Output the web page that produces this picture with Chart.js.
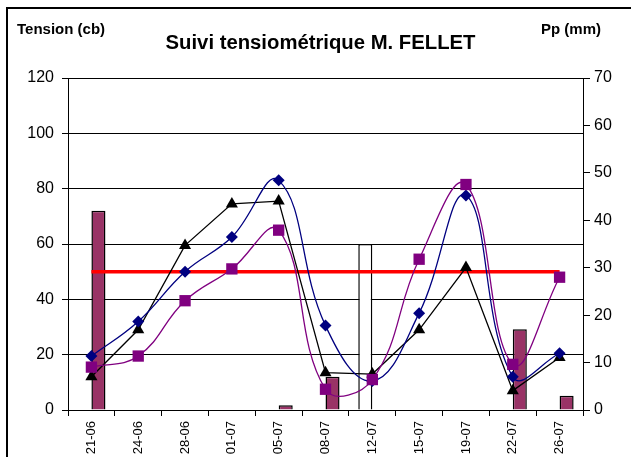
<!DOCTYPE html>
<html>
<head>
<meta charset="utf-8">
<script src="https://cdn.jsdelivr.net/npm/chart.js@4.4.1/dist/chart.umd.min.js"></script>
<style>
  html, body { margin: 0; padding: 0; background: #fff; }
  #wrap { position: relative; width: 631px; height: 457px; }
</style>
</head>
<body>
<div id="wrap"><canvas id="c" width="631" height="457"></canvas></div>
<script>
const categories = ['21-06','24-06','28-06','01-07','05-07','08-07','12-07','15-07','19-07','22-07','26-07'];
const tensionBlue   = [19.5, 32, 50, 62.5, 83, 30.5, 10.5, 35, 77.5, 12, 20.5];
const tensionPurple = [15.5, 19.5, 39.5, 51, 65, 7.5, 11, 54.5, 81.5, 16.5, 48];
const tensionBlack  = [12, 29, 59.5, 74.5, 75.5, 13.5, 13, 29, 51.5, 7, 19];
const threshold     = [50, 50, 50, 50, 50, 50, 50, 50, 50, 50, 50];
const rainMaroon    = [42, 0, 0, 0, 1, 7, 0, 0, 0, 17, 3];
const irrigWhite    = [0, 0, 0, 0, 0, 0, 35, 0, 0, 0, 0];
const leftTicks  = [0, 20, 40, 60, 80, 100, 120];
const rightTicks = [0, 10, 20, 30, 40, 50, 60, 70];

const FONT = "'Liberation Sans', Arial, sans-serif";

const decor = {
  id: 'decor',
  beforeDraw(chart) {
    const ctx = chart.ctx;
    ctx.save();
    ctx.fillStyle = '#fff';
    ctx.fillRect(0, 0, chart.width, chart.height);
    ctx.fillStyle = '#000';
    ctx.fillRect(6, 7, 2, chart.height - 7);
    ctx.fillRect(6, 7, chart.width - 6, 2);
    ctx.restore();
  },
  afterDraw(chart) {
    const ctx = chart.ctx;
    ctx.save();
    ctx.fillStyle = '#000';
    ctx.textBaseline = 'middle';
    ctx.font = 'bold 15px ' + FONT;
    ctx.textAlign = 'left';
    ctx.fillText('Tension (cb)', 17, 30);
    ctx.fillText('Pp (mm)', 541, 30);
    ctx.font = 'bold 20.3px ' + FONT;
    ctx.textAlign = 'center';
    ctx.fillText('Suivi tensiométrique M. FELLET', 320.5, 43);
    ctx.restore();
  }
};

new Chart(document.getElementById('c'), {
  data: {
    labels: categories,
    datasets: [
      { type: 'line', data: tensionPurple, yAxisID: 'y', order: 1,
        borderColor: '#800080', backgroundColor: '#800080', borderWidth: 1.3,
        pointStyle: 'rect', pointRadius: 8, pointBorderWidth: 0, tension: 0.42, fill: false },
      { type: 'line', data: tensionBlue, yAxisID: 'y', order: 2,
        borderColor: '#000080', backgroundColor: '#000080', borderWidth: 1.3,
        pointStyle: 'rectRot', pointRadius: 6, pointBorderWidth: 0, tension: 0.42, fill: false },
      { type: 'line', data: tensionBlack, yAxisID: 'y', order: 3,
        borderColor: '#000000', backgroundColor: '#000000', borderWidth: 1.3,
        pointStyle: 'triangle', pointRadius: 7, pointBorderWidth: 0, tension: 0, fill: false },
      { type: 'line', data: threshold, yAxisID: 'y', order: 4,
        borderColor: '#ff0000', borderWidth: 3.5, pointRadius: 0, tension: 0, fill: false },
      { type: 'bar', data: irrigWhite, yAxisID: 'y1', order: 5,
        backgroundColor: '#ffffff', borderColor: '#000000', borderWidth: 1.5,
        categoryPercentage: 0.6, barPercentage: 1.0 },
      { type: 'bar', data: rainMaroon, yAxisID: 'y1', order: 6,
        backgroundColor: '#993366', borderColor: '#000000', borderWidth: 1.5,
        categoryPercentage: 0.6, barPercentage: 1.0 }
    ]
  },
  options: {
    responsive: false,
    animation: false,
    devicePixelRatio: 1,
    layout: { padding: { left: 0, right: 0, top: 78, bottom: 0 } },
    plugins: { legend: { display: false }, tooltip: { enabled: false }, title: { display: false } },
    scales: {
      x: {
        type: 'category',
        offset: true,
        grid: { display: true, drawOnChartArea: false, offset: true, tickLength: 6, color: '#000', lineWidth: 1 },
        border: { display: true, color: '#000', width: 1 },
        ticks: { color: '#000', font: { family: FONT, size: 13 }, minRotation: 90, maxRotation: 90, padding: 5, autoSkip: false },
        afterFit(s) { s.height = 47; }
      },
      y: {
        position: 'left',
        min: 0, max: 120,
        afterBuildTicks(s) { s.ticks = leftTicks.map(v => ({ value: v })); },
        grid: { color: '#000', lineWidth: 1, tickLength: 6 },
        border: { display: true, color: '#000', width: 1 },
        ticks: { color: '#000', font: { family: FONT, size: 16 }, padding: 8 },
        afterFit(s) { s.width = 68; }
      },
      y1: {
        position: 'right',
        min: 0, max: 70,
        afterBuildTicks(s) { s.ticks = rightTicks.map(v => ({ value: v })); },
        grid: { drawOnChartArea: false, color: '#000', lineWidth: 1, tickLength: 7 },
        border: { display: true, color: '#000', width: 1 },
        ticks: { color: '#000', font: { family: FONT, size: 16 }, padding: 4 },
        afterFit(s) { s.width = 48; }
      }
    }
  },
  plugins: [decor]
});
</script>
</body>
</html>
